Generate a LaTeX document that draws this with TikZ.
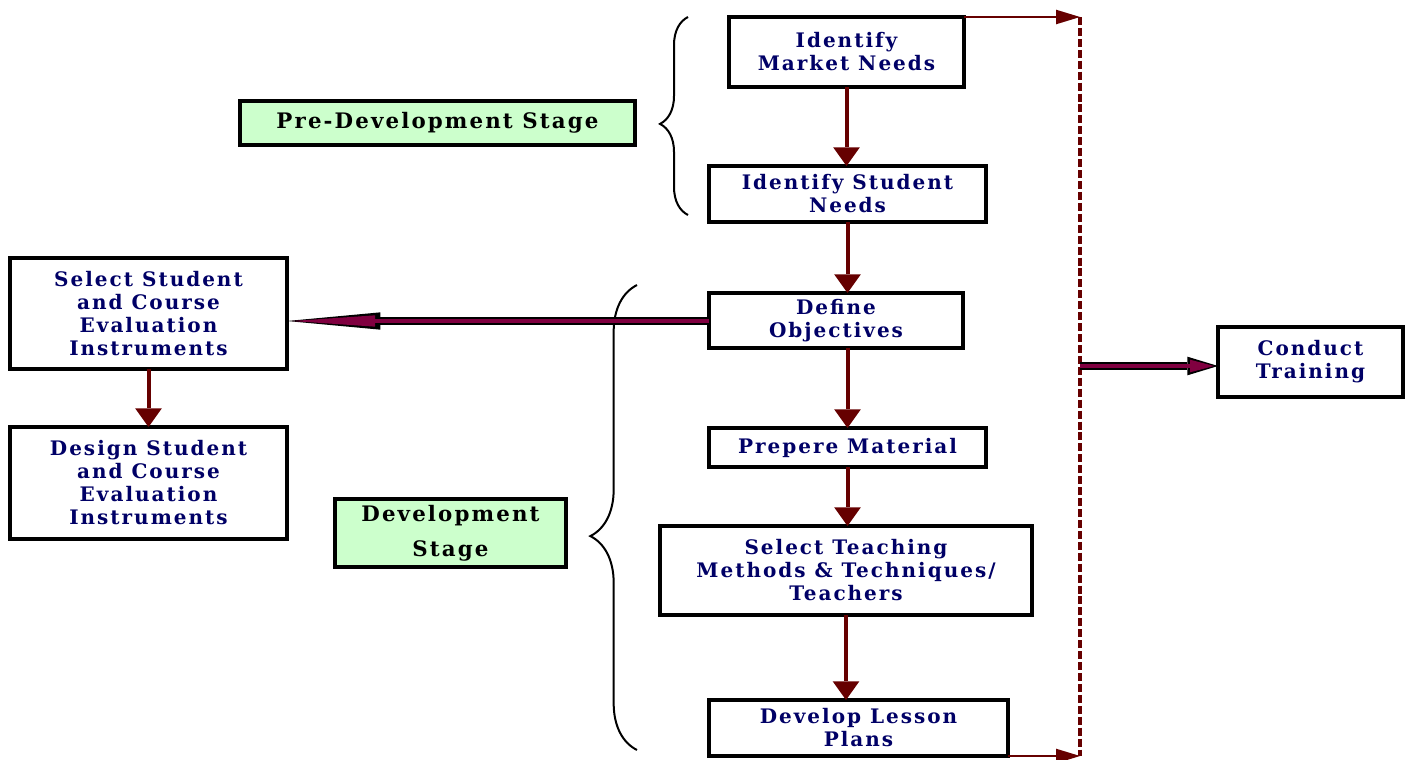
\documentclass[tikz,border=0pt]{standalone}
\usepackage{fontspec}
\setmainfont{DejaVu Serif}[LetterSpace=10]
\usetikzlibrary{arrows.meta,decorations.pathreplacing}
\definecolor{navytext}{RGB}{0,0,102}
\definecolor{darkred}{RGB}{102,0,0}
\definecolor{plum}{RGB}{128,0,64}
\definecolor{palegreen}{RGB}{204,255,204}

\begin{document}
\begin{tikzpicture}[x=0.75pt,y=-0.75pt,
    box/.style={draw, line width=2.4pt, text=navytext, align=center, inner sep=0pt, outer sep=0pt,
        font=\bfseries\fontsize{15}{17.25}\selectfont},
    stage/.style={box, fill=palegreen, text=black, font=\bfseries\fontsize{16}{18}\selectfont},
    flow/.style={darkred, line width=3pt, -{Triangle[length=14pt,width=20pt,line width=0pt]}},
    feed/.style={darkred, line width=2.2pt, -{Triangle[length=18pt,width=11pt,line width=0pt]}},
    stagebrace/.style={decorate, line width=1.5pt, decoration={brace, aspect=0.46}}]
        \useasboundingbox (0,0) rectangle (1413,760);
        % main column
        \node[box, minimum width=176.25pt, minimum height=52.5pt] (market) at (846.5,52) {Identify\\Market Needs};
        \node[box, minimum width=207.75pt, minimum height=42pt] (student) at (847.5,194) {Identify Student\\Needs};
        \node[box, minimum width=190.5pt, minimum height=41.25pt] (objectives) at (836,320.5) {Define\\Objectives};
        \node[box, minimum width=207.75pt, minimum height=29.25pt] (material) at (847.5,447.5) {Prepere Material};
        \node[box, minimum width=279pt, minimum height=66.75pt] (teaching) at (846,570.5) {Select Teaching\\Methods \& Techniques/\\Teachers};
        \node[box, minimum width=224.25pt, minimum height=42pt] (lesson) at (858.5,728) {Develop Lesson\\Plans};
        \node[box, minimum width=138.75pt, minimum height=52.5pt] (conduct) at (1310.5,362) {Conduct\\Training};
        % evaluation column
        \node[box, minimum width=207.75pt, minimum height=83.25pt] (selecteval) at (148.5,313.5) {Select Student\\and Course\\Evaluation\\Instruments};
        \node[box, minimum width=207.75pt, minimum height=84pt] (designeval) at (148.5,483) {Design Student\\and Course\\Evaluation\\Instruments};
        % stages
        \node[stage, minimum width=296.25pt, minimum height=33pt] (predev) at (437.5,123) {Pre-Development Stage};
        \node[stage, minimum width=173.25pt, minimum height=51pt] (dev) at (450.5,533) {Development\\[8pt]Stage};
        \draw[stagebrace, decoration={amplitude=21pt}] (688,215) -- (688,17);
        \draw[stagebrace, decoration={amplitude=35pt}] (637,750) -- (637,285);
        % arrows
        \draw[flow] (market.south) -- (market.south |- student.north);
        \draw[flow] (student.south) -- (student.south |- objectives.north);
        \draw[flow] (objectives.south -| material.north) -- (material.north);
        \draw[flow] (material.south) -- (material.south |- teaching.north);
        \draw[flow] (teaching.south) -- (teaching.south |- lesson.north);
        \draw[flow] (selecteval) -- (designeval);
        \coordinate (railtop) at (1080,17);
        \coordinate (railmid) at (1080,366);
        \coordinate (railbot) at (1080,756);
        \draw[darkred, line width=2.4pt, dash pattern=on 6pt off 2.2pt] (railtop) -- (railbot);
        \draw[feed] (market.north east) -- (railtop);
        \draw[feed] (lesson.south east) -- (railbot);
        \draw[line width=6.5pt, -{Triangle[length=70pt,width=13pt,line width=0pt]}] (objectives.west |- 0,321) -- (selecteval.east |- 0,321);
        \draw[plum, line width=3.5pt, shorten >=4pt, -{Triangle[length=62pt,width=8.5pt,line width=0pt]}] (objectives.west |- 0,321) -- (selecteval.east |- 0,321);
        \draw[line width=6pt, -{Triangle[length=23pt,width=14pt,line width=0pt]}] (railmid) -- (railmid -| conduct.west);
        \draw[plum, line width=3.5pt, shorten >=3pt, -{Triangle[length=18pt,width=9.5pt,line width=0pt]}] (railmid) -- (railmid -| conduct.west);
\end{tikzpicture}
\end{document}
